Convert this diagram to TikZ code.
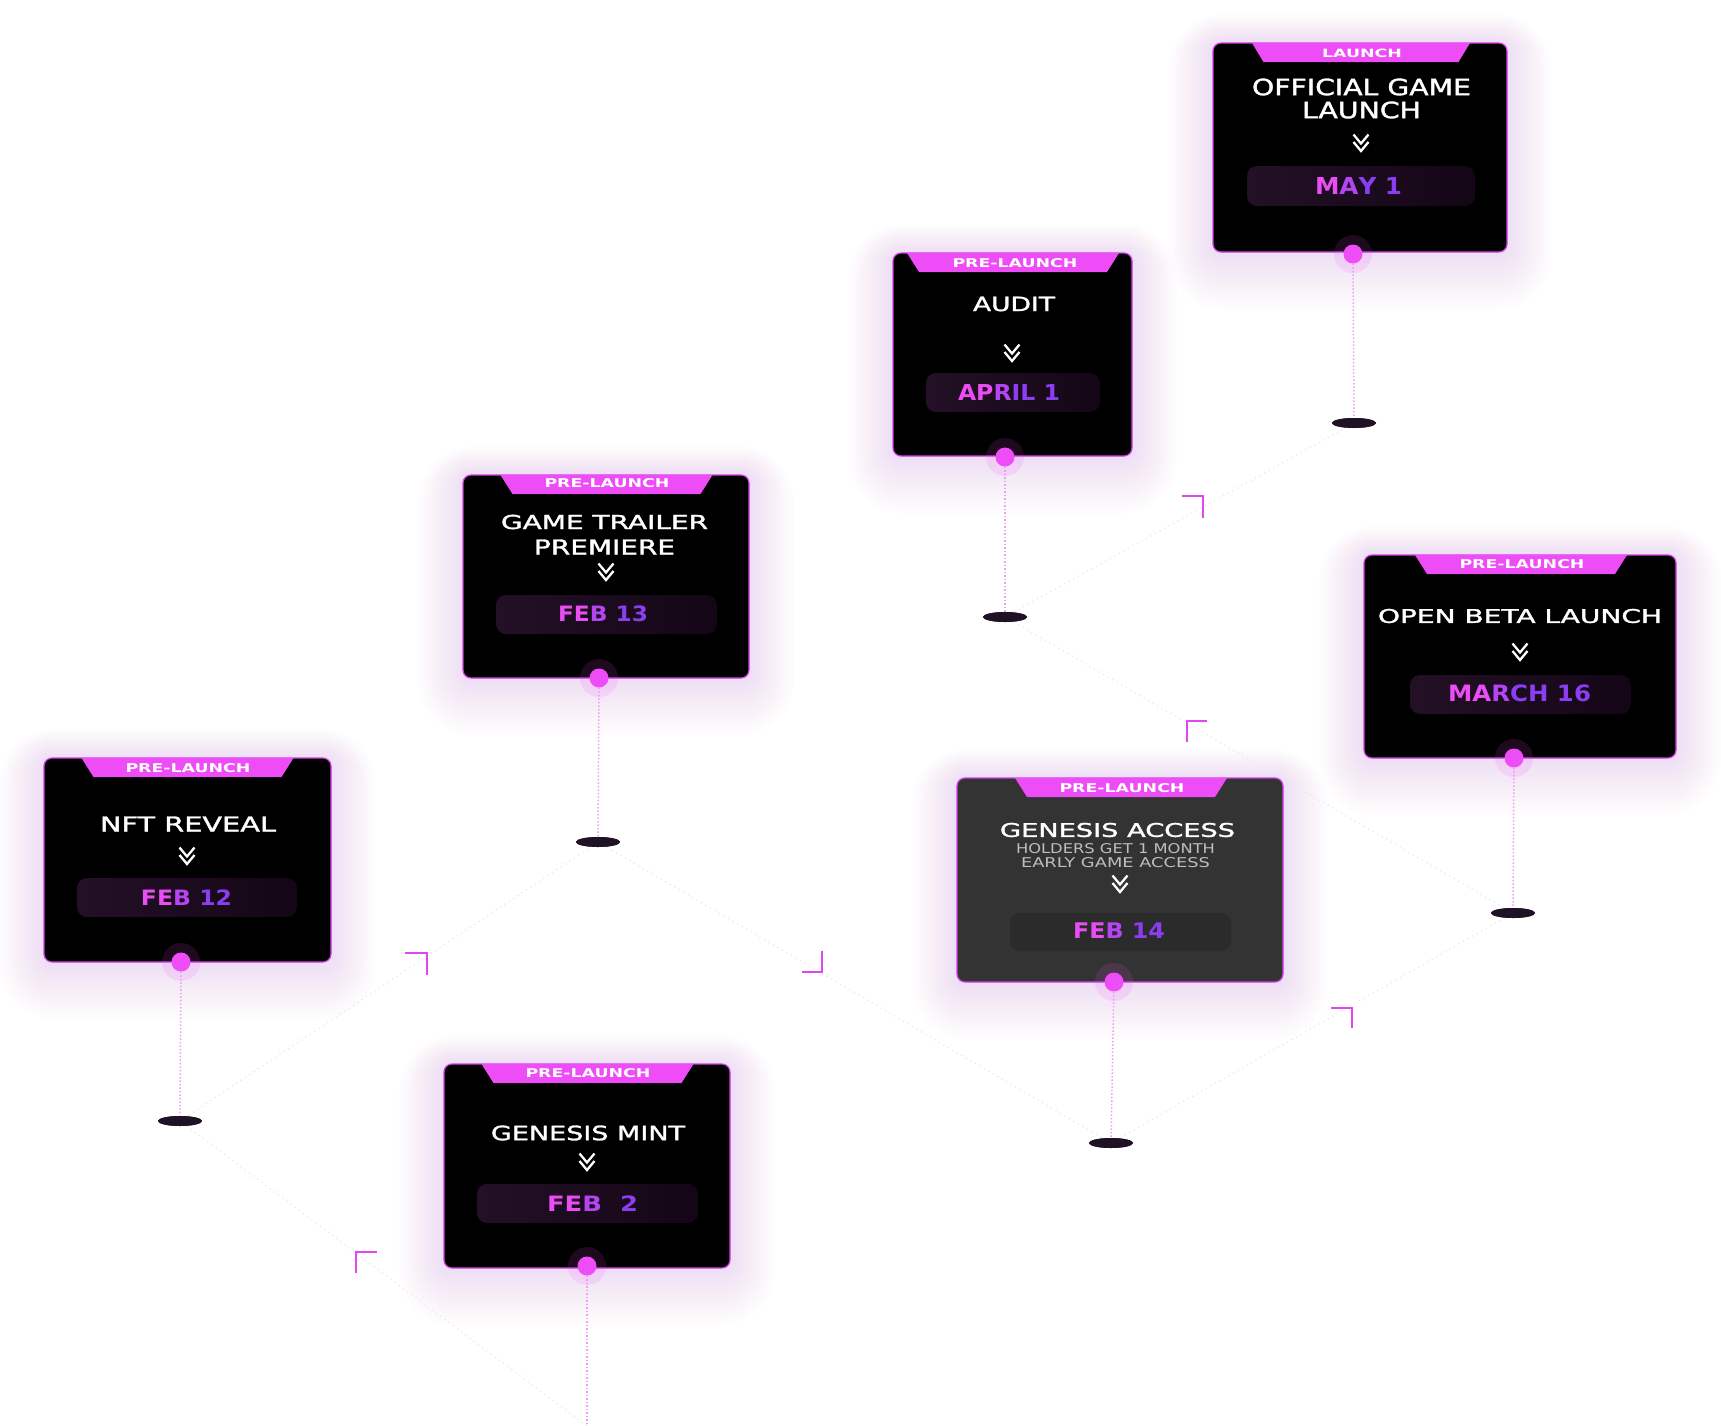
\documentclass[tikz,border=0pt]{standalone}
\usepackage{fontspec}
\usepackage{graphicx}
\usetikzlibrary{shapes.geometric,fit}
\newfontfamily\titlef{DejaVu Sans}
\newfontfamily\headf{DejaVu Sans}[FakeBold=1.4]
\newlength\pxu \setlength\pxu{0.5pt}
\newcommand\fitt[3]{\resizebox{#1\pxu}{#2\pxu}{#3}}
\definecolor{tabc}{HTML}{EE4CF6}
\definecolor{dotpink}{HTML}{EE4CF6}
\definecolor{cardedge}{HTML}{D23FE6}
\definecolor{glowc}{HTML}{EE6AF6}
\definecolor{pillL}{HTML}{231026}
\definecolor{pillR}{HTML}{140616}
\definecolor{pillG}{HTML}{2B2B2B}
\definecolor{cardG}{HTML}{333333}
\definecolor{shadowc}{HTML}{1F1224}
\definecolor{stemc}{HTML}{F09CF6}
\definecolor{trailc}{HTML}{E8E8E8}
\definecolor{brk}{HTML}{E246F2}
\definecolor{subgray}{HTML}{BEBEBE}
\definecolor{gpink}{HTML}{EA4DF4}
\definecolor{gmid}{HTML}{B445F3}
\definecolor{gpurp}{HTML}{8B3DF2}
\newcommand\gP[1]{\textcolor{gpink}{#1}}
\newcommand\gM[1]{\textcolor{gmid}{#1}}
\newcommand\gU[1]{\textcolor{gpurp}{#1}}
\tikzset{
  cardbox/.style={draw=cardedge, line width=0.6pt, rounded corners=4pt, inner sep=0pt},
  titletext/.style={text=white, inner sep=0pt, font=\headf},
  subtext/.style={text=subgray, inner sep=0pt, font=\titlef},
  tablabel/.style={text=white, inner sep=0pt, font=\titlef\bfseries},
  datetext/.style={inner sep=0pt, font=\titlef\bfseries},
  dotc/.style={circle, fill=dotpink, minimum size=9.5pt, inner sep=0pt},
  halo/.style={circle, fill=dotpink, fill opacity=0.13, minimum size=19pt, inner sep=0pt},
  shadowe/.style={ellipse, fill=shadowc, minimum width=22pt, minimum height=5pt, inner sep=0pt},
  stem/.style={draw=stemc, line width=0.75pt, densely dotted},
  trail/.style={draw=trailc, line width=0.6pt, dotted},
  bracket/.style={draw=brk, line width=1.4pt, line join=miter},
  chev/.style={draw=white, line width=1.15pt},
}
\newcommand\glowbox[4]{\foreach \i in {1,...,16}{\pgfmathsetmacro\rc{4+\i*1.5}\fill[glowc, opacity=0.013, rounded corners=\rc pt] ({#1-\i*2.8},{#2-\i*1.8}) rectangle ({#3+\i*2.8},{#4+\i*3.6});}}
\newcommand\tabat[4]{\fill[tabc] ({#1-#3},#2) -- ({#1+#3},#2) -- ({#1+#4},{#2+19}) -- ({#1-#4},{#2+19}) -- cycle;}
\newcommand\chevat[2]{\draw[chev] ({#1-7.5},{#2-8.5}) -- (#1,{#2+0.5}) -- ({#1+7.5},{#2-8.5});\draw[chev] ({#1-7.5},{#2-1}) -- (#1,{#2+8}) -- ({#1+7.5},{#2-1});}
\newcommand\pillat[4]{\fill[left color=pillL, right color=pillR, rounded corners=5pt] (#1,#2) rectangle (#3,#4);}
\begin{document}
\begin{tikzpicture}[x=0.5pt,y=-0.5pt]
\useasboundingbox (0,0) rectangle (1721,1426);
\fill[white] (0,0) rectangle (1721,1426);
% glows
\glowbox{1213}{43}{1507}{252}
\glowbox{893}{253}{1132}{456}
\glowbox{957}{778}{1283}{982}
\glowbox{1364}{555}{1676}{758}
\glowbox{44}{758}{331}{962}
\glowbox{444}{1064}{730}{1268}
\glowbox{463}{475}{749}{678}
% shadows (landing points)
\node[shadowe] (s1) at (1354,423) {};
\node[shadowe] (s2) at (1005,617) {};
\node[shadowe] (s3) at (1111,1143) {};
\node[shadowe] (s4) at (1513,913) {};
\node[shadowe] (s5) at (180,1121) {};
\coordinate (e6) at (587,1426);
\node[shadowe] (s7) at (598,842) {};
% faint trail
\draw[trail] (e6) -- (s5.center);
\draw[trail] (s5.center) -- (s7.center);
\draw[trail] (s7.center) -- (s3.center);
\draw[trail] (s3.center) -- (s4.center);
\draw[trail] (s4.center) -- (s2.center);
\draw[trail] (s2.center) -- (s1.center);
\node[shadowe] at (1354,423) {};
\node[shadowe] at (1005,617) {};
\node[shadowe] at (1111,1143) {};
\node[shadowe] at (1513,913) {};
\node[shadowe] at (180,1121) {};
\node[shadowe] at (598,842) {};
% brackets
\draw[bracket] (377,1252) -- (356,1252) -- (356,1273);
\draw[bracket] (405,953) -- (427,953) -- (427,975);
\draw[bracket] (802,972) -- (822,972) -- (822,951);
\draw[bracket] (1331,1008) -- (1352,1008) -- (1352,1028);
\draw[bracket] (1207,721) -- (1187,721) -- (1187,742);
\draw[bracket] (1182,496) -- (1203,496) -- (1203,518);
% ---------- card 1 : launch
\node[cardbox, fill=black, fit={(1213,43) (1507,252)}] (c1) {};
\tabat{1361}{43}{109}{97.5}
\node[tablabel] (l1) at (1362,53) {\fitt{80}{8.5}{LAUNCH}};
\node[titletext] (t1a) at (1361.5,87) {\fitt{219}{16.7}{OFFICIAL GAME}};
\node[titletext] (t1b) at (1361.5,110) {\fitt{119}{16.7}{LAUNCH}};
\chevat{1361}{143}
\pillat{1247}{166}{1475}{206}
\node[datetext] (dt1) at (1358.5,186) {\fitt{87}{17}{\gP{M}\gM{A}\gU{Y}\ \gU{1}}};
\node[halo] at (1353,254) {};
\node[dotc] (d1) at (1353,254) {};
\draw[stem] (d1) -- (s1);
% ---------- card 2 : audit
\node[cardbox, fill=black, fit={(893,253) (1132,456)}] (c2) {};
\tabat{1013}{253}{106}{94}
\node[tablabel] (l2) at (1015,263) {\fitt{125}{9}{PRE-LAUNCH}};
\node[titletext] (t2) at (1014,304) {\fitt{82}{14.3}{AUDIT}};
\chevat{1012}{353}
\pillat{926}{373}{1100}{412}
\node[datetext] (dt2) at (1009,392) {\fitt{102}{16}{\gP{AP}\gM{R}\gU{IL}\ \gU{1}}};
\node[halo] at (1005,457) {};
\node[dotc] (d2) at (1005,457) {};
\draw[stem] (d2) -- (s2);
% ---------- card 3 : genesis access
\node[cardbox, fill=cardG, fit={(957,778) (1283,982)}] (c3) {};
\tabat{1121}{778}{106}{94}
\node[tablabel] (l3) at (1122,788) {\fitt{125}{9}{PRE-LAUNCH}};
\node[titletext] (t3) at (1117.5,830) {\fitt{235}{14}{GENESIS ACCESS}};
\node[subtext] (u3a) at (1115.5,849) {\fitt{199}{10}{HOLDERS GET 1 MONTH}};
\node[subtext] (u3b) at (1115.5,863) {\fitt{189}{10}{EARLY GAME ACCESS}};
\chevat{1120}{884}
\fill[pillG, rounded corners=5pt] (1010,913) rectangle (1231,951);
\node[datetext] (dt3) at (1119,931) {\fitt{92}{15.7}{\gP{FE}\gM{B}\ \gU{14}}};
\node[halo] at (1114,982) {};
\node[dotc] (d3) at (1114,982) {};
\draw[stem] (d3) -- (s3);
% ---------- card 4 : open beta
\node[cardbox, fill=black, fit={(1364,555) (1676,758)}] (c4) {};
\tabat{1521}{555}{106}{94}
\node[tablabel] (l4) at (1522,564) {\fitt{125}{9}{PRE-LAUNCH}};
\node[titletext] (t4) at (1520,616) {\fitt{284}{14}{OPEN BETA LAUNCH}};
\chevat{1520}{652}
\pillat{1410}{675}{1631}{714}
\node[datetext] (dt4) at (1519.5,693) {\fitt{143}{16.7}{\gP{MA}\gM{R}\gU{CH}\ \gU{16}}};
\node[halo] at (1514,758) {};
\node[dotc] (d4) at (1514,758) {};
\draw[stem] (d4) -- (s4);
% ---------- card 5 : nft reveal
\node[cardbox, fill=black, fit={(44,758) (331,962)}] (c5) {};
\tabat{187.5}{758}{106}{94}
\node[tablabel] (l5) at (188,768) {\fitt{125}{9}{PRE-LAUNCH}};
\node[titletext] (t5) at (188,824) {\fitt{176}{15}{NFT REVEAL}};
\chevat{187}{856}
\pillat{77}{878}{297}{917}
\node[datetext] (dt5) at (186.5,898) {\fitt{91}{15.7}{\gP{FE}\gM{B}\ \gU{12}}};
\node[halo] at (181,962) {};
\node[dotc] (d5) at (181,962) {};
\draw[stem] (d5) -- (s5);
% ---------- card 6 : genesis mint
\node[cardbox, fill=black, fit={(444,1064) (730,1268)}] (c6) {};
\tabat{587.5}{1064}{106}{94}
\node[tablabel] (l6) at (588,1073) {\fitt{125}{9}{PRE-LAUNCH}};
\node[titletext] (t6) at (588,1133) {\fitt{194}{14.7}{GENESIS MINT}};
\chevat{587}{1162}
\pillat{477}{1184}{698}{1223}
\node[datetext] (dt6) at (592.5,1204) {\fitt{91}{15.7}{\gP{FE}\gM{B}\ \ \gU{2}}};
\node[halo] at (587,1266) {};
\node[dotc] (d6) at (587,1266) {};
\draw[stem] (d6) -- (e6);
% ---------- card 7 : game trailer
\node[cardbox, fill=black, fit={(463,475) (749,678)}] (c7) {};
\tabat{606.5}{475}{106}{94}
\node[tablabel] (l7) at (607,483) {\fitt{125}{9}{PRE-LAUNCH}};
\node[titletext] (t7a) at (604.5,522) {\fitt{207}{14.3}{GAME TRAILER}};
\node[titletext] (t7b) at (604.5,547) {\fitt{141}{15}{PREMIERE}};
\chevat{606}{572}
\pillat{496}{595}{717}{634}
\node[datetext] (dt7) at (603,614) {\fitt{90}{15.7}{\gP{FE}\gM{B}\ \gU{13}}};
\node[halo] at (599,678) {};
\node[dotc] (d7) at (599,678) {};
\draw[stem] (d7) -- (s7);
\end{tikzpicture}
\end{document}
